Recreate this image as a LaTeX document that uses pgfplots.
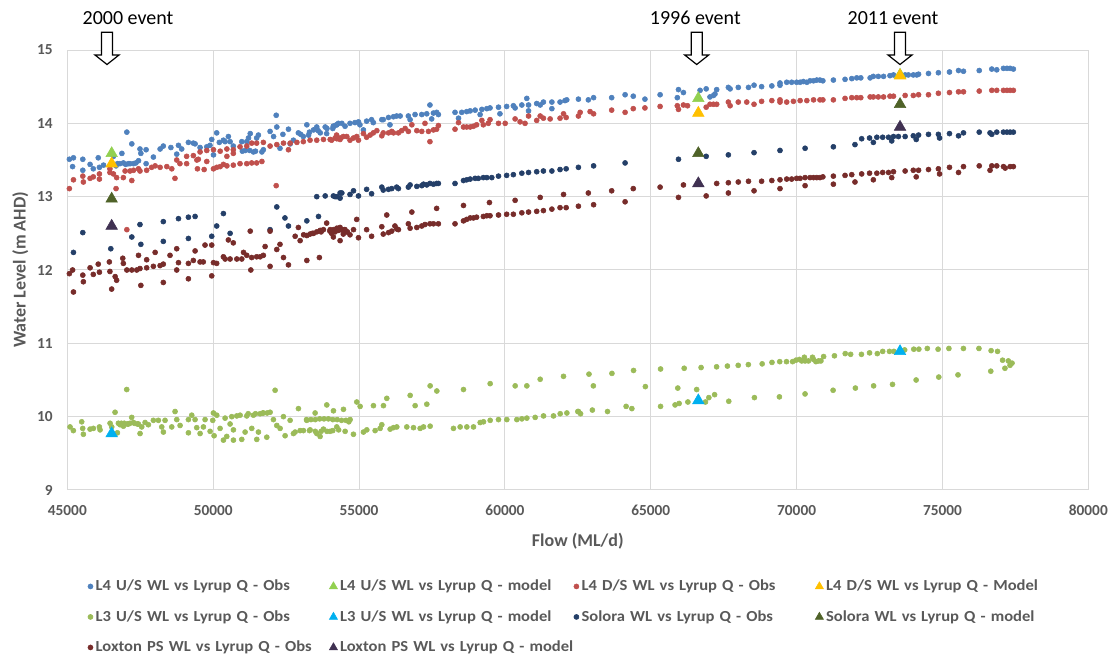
\documentclass[border=0pt]{standalone}
\usepackage{fontspec}
\setmainfont{Carlito}
\newfontfamily\legfont[FakeStretch=1.08]{Carlito}
\usepackage{pgfplots}
\pgfplotsset{compat=1.18}
\definecolor{cLfourU}{HTML}{4F81BD}
\definecolor{cLfourUm}{HTML}{92D050}
\definecolor{cLfourD}{HTML}{C0504D}
\definecolor{cLfourDm}{HTML}{FFC000}
\definecolor{cLthreeU}{HTML}{9BBB59}
\definecolor{cLthreeUm}{HTML}{00B0F0}
\definecolor{cSol}{HTML}{243F68}
\definecolor{cSolm}{HTML}{4F6228}
\definecolor{cLox}{HTML}{772C2A}
\definecolor{cLoxm}{HTML}{403152}
\definecolor{lblgray}{HTML}{595959}
\definecolor{gridgray}{HTML}{D9D9D9}
\begin{document}
\begin{tikzpicture}
\path[use as bounding box] (0,0) rectangle (834.75pt,494.25pt);
\begin{axis}[
  at={(50.5pt,126.75pt)}, anchor=south west,
  scale only axis, width=765.75pt, height=330pt,
  xmin=45000, xmax=80000, ymin=9, ymax=15,
  xtick={45000,50000,...,80000}, ytick={9,10,...,15},
  scaled x ticks=false,
  /pgf/number format/1000 sep={},
  /pgf/number format/assume math mode=true,
  grid=major, major grid style={draw=gridgray, line width=0.75pt},
  axis line style={draw=gridgray, line width=0.75pt},
  major tick length=0pt,
  tick label style={font=\fontsize{11.5}{13}\selectfont\bfseries, text=lblgray},
  xticklabel style={yshift=-8pt},
  yticklabel style={xshift=-7.5pt},
  xlabel={Flow (ML/d)}, ylabel={Water Level (m AHD)},
  label style={font=\fontsize{13.5}{15}\selectfont\bfseries, text=lblgray},
  xlabel style={at={(axis description cs:0.5,-0.116)}, anchor=center},
  ylabel style={at={(axis description cs:-0.046,0.5)}, anchor=center},
  legend columns=4,
  legend cell align=left,
  legend style={at={(axis description cs:0.016,-0.192)}, anchor=north west, draw=none, fill=none,
    font=\legfont\fontsize{11.5}{13.5}\selectfont\bfseries, text=lblgray, row sep=9.3pt,
    nodes={text width=177pt, align=left},
    /tikz/every even column/.append style={column sep=-3.7pt}},
  legend image code/.code={\draw[mark repeat=2,mark phase=2,#1] plot coordinates {(0cm,0cm)(0.12cm,0cm)(0.24cm,0cm)};},
]
% L4 U/S Obs
\addplot[only marks, mark=*, mark size=1.9pt, color=cLfourU] coordinates {
(45070,13.51)(45210,13.53)(45180,13.41)(45530,13.51)(45530,13.36)(45780,13.44)(45890,13.38)(46060,13.53)(46100,13.40)(46240,13.43)
(46580,13.55)(46670,13.42)(46870,13.59)(47040,13.88)(47210,13.72)(46920,13.46)(47090,13.45)(47270,13.45)(47440,13.49)(47490,13.65)
(47520,13.59)(47700,13.64)(47700,13.45)(47950,13.54)(48180,13.65)(48290,13.69)(48550,13.67)(48750,13.58)(48810,13.70)(48920,13.65)
(49150,13.74)(49320,13.73)(49380,13.72)(49550,13.67)(49780,13.68)(49890,13.70)(49950,13.78)(50010,13.57)(50120,13.87)(50210,13.74)
(50350,13.77)(50410,13.75)(50520,13.82)(50580,13.75)(50690,13.69)(50980,13.75)(51150,13.75)(51210,13.80)(51270,13.86)(51380,13.61)
(51490,13.80)(51550,13.84)(51670,13.61)(51720,13.64)(51950,13.89)(52070,13.82)(52160,14.11)(52180,13.95)(52290,13.66)(52390,13.85)
(52580,13.92)(52640,13.72)(52750,13.77)(52920,13.87)(53090,13.82)(53210,13.98)(53270,13.84)(53440,13.91)(53550,13.95)(53670,13.87)
(53840,13.95)(53890,13.86)(54120,13.96)(54240,13.98)(54290,14.00)
(46720,13.45)(46800,13.45)(47000,13.44)(47150,13.45)(47350,13.46)(51000,13.62)(51100,13.63)(51250,13.63)(51450,13.62)
(53000,13.85)(53300,13.88)(53600,13.90)(53900,13.93)(54100,13.93)
(54120,13.96)(54230,13.98)(54410,14.00)(54520,13.96)(54690,14.00)(54860,14.01)(54980,14.02)(55030,13.98)(55150,13.91)(55260,14.03)
(55430,14.05)(55490,14.01)(55780,14.05)(55830,14.05)(56010,14.08)(56060,13.98)(56180,14.09)(56290,14.10)(56410,14.10)(56690,14.10)
(56750,14.05)(56920,14.12)(57150,14.12)(57320,14.13)(57430,14.25)(57490,14.06)(57550,14.14)(57660,14.15)(57720,14.12)(58290,14.15)
(58410,14.07)(58520,14.15)(58690,14.16)(58810,14.17)(58980,14.18)(59150,14.12)(59210,14.19)(59380,14.20)(59490,14.21)(59780,14.22)
(59830,14.13)(60060,14.23)(60290,14.24)(60350,14.21)(60580,14.25)(60750,14.34)(60810,14.25)(60810,14.17)(61090,14.27)(61210,14.25)
(61320,14.29)(61610,14.29)(61610,14.20)(61890,14.29)(62060,14.31)(62120,14.32)(62520,14.33)(62860,14.32)(63040,14.35)(63660,14.35)
(64120,14.39)(64400,14.37)(64800,14.33)(65320,14.39)(65910,14.35)(65950,14.46)(66120,14.42)(66690,14.45)(66900,14.47)(67030,14.36)
(67150,14.38)(67200,14.40)(67260,14.46)(67660,14.49)(67720,14.47)(68000,14.49)(68350,14.49)(68540,14.52)(68800,14.50)(69150,14.51)
(69430,14.55)(69430,14.52)(69660,14.56)(69830,14.56)(70000,14.56)(70120,14.56)(70230,14.57)(70350,14.56)(70460,14.58)(70580,14.58)
(70690,14.59)(70800,14.59)(70900,14.58)(71260,14.59)(71660,14.60)(71890,14.61)(72060,14.62)(72200,14.62)(72520,14.62)(72630,14.64)
(72800,14.64)(72980,14.64)(73200,14.65)(73320,14.66)(73720,14.66)(73830,14.66)(74000,14.66)(74120,14.66)(74180,14.67)(74520,14.68)
(74860,14.69)(75240,14.70)(75550,14.72)(75720,14.71)(76260,14.72)(76690,14.74)(76860,14.73)(77090,14.75)(77210,14.75)(77320,14.75)
(77430,14.74)
};
\addlegendentry{L4 U/S WL vs Lyrup Q - Obs}
% L4 U/S model
\addplot[only marks, mark=triangle*, mark size=5pt, color=cLfourUm, legend image post style={mark size=3.5pt}] coordinates {
(46520,13.59)(66630,14.34)(73545,14.66)
};
\addlegendentry{L4 U/S WL vs Lyrup Q - model}
% L4 D/S Obs
\addplot[only marks, mark=*, mark size=1.9pt, color=cLfourD] coordinates {
(45070,13.11)(45210,13.23)(45530,13.28)(45550,13.20)(45780,13.25)(45890,13.27)(46100,13.31)(46100,13.24)(46460,13.33)(46580,13.31)
(46670,13.11)(46690,13.26)(46920,13.26)(47210,13.22)(46980,13.35)(47150,13.35)(47270,13.36)(47440,13.38)(47490,13.35)(47720,13.36)
(47890,13.40)(48010,13.42)(48180,13.40)(48410,13.41)(48580,13.38)(48690,13.25)(48750,13.50)(48860,13.45)(49090,13.45)(49460,13.38)
(49440,13.50)(49690,13.37)(49780,13.48)(50010,13.38)(50120,13.40)(50240,13.41)(50350,13.44)(50470,13.42)(50690,13.43)(50920,13.45)
(51150,13.45)(51320,13.46)(51490,13.46)(51670,13.48)(52160,13.15)(49550,13.61)(49780,13.63)(50010,13.64)(50240,13.62)(50470,13.65)
(50690,13.64)(50920,13.68)(51150,13.69)(51320,13.73)(51490,13.73)(51720,13.74)(51950,13.69)(52180,13.71)(52410,13.73)(52580,13.64)
(52640,13.73)(52870,13.74)(53090,13.75)(53320,13.77)(53550,13.77)(53780,13.78)(54010,13.78)(54240,13.79)(54350,13.80)(47040,12.55)
(49090,13.55)(49320,13.56)(49490,13.51)(50470,13.55)(50690,13.59)(46460,13.38)
(54060,13.77)(54180,13.80)(54230,13.84)(54350,13.78)(54460,13.82)(54580,13.82)(54690,13.77)(54810,13.80)(54920,13.82)(54980,13.77)
(55150,13.86)(55260,13.81)(55380,13.84)(55490,13.87)(55610,13.90)(55780,13.83)(55830,13.87)(56010,13.87)(56120,13.89)(56180,13.87)
(56350,13.87)(56460,13.90)(56580,13.93)(56690,13.89)(56810,13.98)(56980,13.90)(57150,13.89)(57260,14.00)(57380,13.89)(57430,13.75)
(57550,13.91)(57660,13.92)(57720,13.97)(58290,13.92)(58410,14.01)(58580,13.95)(58690,13.95)(58810,13.95)(58920,13.96)(59030,13.98)
(59210,14.04)(59260,13.98)(59430,14.00)(59490,14.05)(59780,14.00)(60010,14.00)(60350,14.06)(60520,14.02)(60690,14.00)(60810,14.10)
(61090,14.04)(61210,14.10)(61320,14.07)(61550,14.06)(61890,14.07)(62010,14.13)(62100,14.08)(62520,14.10)(62580,14.15)(62920,14.16)
(63040,14.13)(63660,14.18)(64120,14.15)
(64400,14.20)(64800,14.21)(65320,14.23)(65910,14.24)(65950,14.19)(66120,14.25)(66260,14.24)(66900,14.22)(67030,14.26)(67150,14.26)
(67260,14.26)(67660,14.29)(67720,14.24)(68000,14.29)(68290,14.29)(68540,14.26)(68800,14.30)(69150,14.31)(69430,14.32)(69430,14.29)
(69660,14.29)(69890,14.30)(70120,14.31)(70350,14.31)(70580,14.32)(70800,14.32)(70900,14.32)(71260,14.32)(71660,14.34)(71890,14.35)
(72060,14.35)(72200,14.35)(72520,14.36)(72630,14.36)(72800,14.36)(72980,14.36)(73200,14.37)(73320,14.37)(73720,14.38)(74000,14.38)
(74180,14.39)(74520,14.39)(74860,14.41)(75240,14.42)(75550,14.43)(75720,14.43)(76260,14.44)(76690,14.45)(76860,14.45)(77090,14.45)
(77210,14.45)(77320,14.45)(77430,14.45)
};
\addlegendentry{L4 D/S WL vs Lyrup Q - Obs}
% L4 D/S Model
\addplot[only marks, mark=triangle*, mark size=5pt, color=cLfourDm, legend image post style={mark size=3.5pt}] coordinates {
(46520,13.45)(66630,14.14)(73545,14.65)
};
\addlegendentry{L4 D/S WL vs Lyrup Q - Model}
% L3 U/S Obs
\addplot[only marks, mark=*, mark size=1.9pt, color=cLthreeU] coordinates {
(45093,9.86)(45207,9.81)(45493,9.93)(45527,9.84)(45550,9.76)(45779,9.83)(45893,9.84)(46099,9.86)(46122,9.82)(46465,9.91)
(46522,9.86)(46636,10.06)(46716,9.78)(46807,9.89)(46922,9.87)(47036,10.37)(47093,9.90)(47207,9.99)(47265,9.92)(47436,9.90)
(47493,9.77)(47550,9.86)(47665,9.92)(47779,9.89)(47950,9.95)(48122,9.95)(48236,9.86)(48293,9.79)(48350,9.95)(48579,9.86)
(48693,10.07)(48751,9.96)(48865,9.88)(49151,9.96)(49151,9.78)(49265,10.02)(49379,9.96)(49436,9.85)(49551,9.77)(49665,9.86)
(49722,9.96)(49894,9.80)(49985,9.95)(50008,10.05)(50031,9.74)(50122,10.02)(50236,9.84)(50351,9.68)(50408,9.98)(50465,9.73)
(50579,9.90)(50636,10.00)(50694,9.82)(50694,9.68)(50808,10.01)(50979,9.69)(50922,10.02)(51094,9.79)(51151,10.01)(51322,9.84)
(51379,10.02)(51494,9.69)(51551,9.79)(51608,10.04)(51722,10.05)(51837,9.72)(51951,10.06)(52065,9.96)(52122,10.36)(52180,9.88)
(52294,9.84)(52408,10.00)(52465,9.74)(52637,9.95)(52751,9.77)(52808,9.79)(52922,10.11)(52980,9.81)(53094,9.81)(53208,9.95)
(53323,9.82)(53494,10.05)(53551,9.77)(53665,9.73)(53780,9.83)(53894,10.16)(54008,9.80)(54123,10.08)(54237,9.86)(54466,10.10)
(54523,9.80)(54694,9.96)(54808,9.76)(54923,10.20)(55037,10.14)(55151,9.79)(55266,9.82)(55494,10.15)(55551,9.81)(55723,9.84)
(55780,9.89)(55837,10.15)(55951,10.25)(56066,9.83)(56180,9.85)(56294,9.86)(56637,9.86)(56752,10.29)(56866,9.85)(56923,10.15)
(57094,9.84)(57209,9.86)(57323,10.17)(57437,10.42)(57437,9.87)(57666,10.35)(58237,9.84)(58466,9.86)(58580,10.37)(58695,9.86)
(58923,9.86)(59152,9.92)(59266,9.93)(59495,10.45)(59495,9.95)(59780,9.96)(60066,9.96)(60352,10.42)(60409,9.96)(60581,9.97)
(60752,10.42)(60752,9.98)(61038,9.99)(61209,10.51)(61324,10.01)(61666,10.01)(61895,10.04)(62009,10.55)(62124,10.05)(62524,10.07)
(46750,9.91)(46850,9.91)(46950,9.91)(47050,9.90)(47150,9.91)(47300,9.91)(47400,9.90)(51200,10.04)(51450,10.04)(51700,10.05)
(51850,10.05)(53200,9.96)(53350,9.96)(53500,9.96)(53650,9.97)(53800,9.97)(53950,9.97)(54100,9.96)(54250,9.96)(54400,9.95)
(54550,9.95)(54650,9.93)(53300,9.81)(53500,9.80)(53700,9.80)(53900,9.80)(54100,9.81)(54300,9.82)
(62500,10.07)(62593,10.04)(62882,10.58)(62998,10.09)(63032,10.42)(63518,10.07)(63669,10.59)(64155,10.14)(64352,10.11)(64410,10.63)
(64815,10.41)(65336,10.65)(65336,10.14)(65833,10.16)(65926,10.39)(65972,10.18)(66146,10.66)(66273,10.20)(66574,10.37)(66725,10.67)
(66875,10.20)(66991,10.26)(67188,10.30)(67257,10.68)(67627,10.69)(67674,10.21)(67998,10.70)(68345,10.71)(68553,10.26)(68819,10.72)
(69155,10.74)(69410,10.27)(69421,10.75)(69653,10.75)(69861,10.75)(69977,10.77)(70093,10.78)(70174,10.76)(70266,10.81)(70289,10.76)
(70405,10.76)(70544,10.81)(70579,10.78)(70660,10.75)(70752,10.76)(70833,10.76)(70926,10.82)(70289,10.31)(71250,10.36)(71296,10.83)
(71667,10.86)(71852,10.85)(72014,10.39)(72222,10.85)(72500,10.87)(72639,10.42)(72766,10.86)(72951,10.89)(73183,10.89)(73287,10.44)
(73334,10.89)(73704,10.91)(74016,10.92)(74097,10.50)(74190,10.92)(74479,10.93)(74849,10.92)(74873,10.54)(75220,10.93)(75532,10.57)
(75718,10.93)(76250,10.93)(76655,10.62)(76667,10.90)(76887,10.89)(77060,10.77)(77141,10.66)(77257,10.76)(77315,10.70)(77384,10.73)
};
\addlegendentry{L3 U/S WL vs Lyrup Q - Obs}
% L3 U/S model
\addplot[only marks, mark=triangle*, mark size=5pt, color=cLthreeUm, legend image post style={mark size=3.5pt}] coordinates {
(46520,9.77)(66630,10.22)(73545,10.89)
};
\addlegendentry{L3 U/S WL vs Lyrup Q - model}
% Solora Obs
\addplot[only marks, mark=*, mark size=1.9pt, color=cSol] coordinates {
(45210,12.24)(45530,12.51)(46490,12.29)(47210,12.45)(47490,12.62)(47520,12.35)(48290,12.66)(48290,12.39)(48810,12.70)(49150,12.43)
(49150,12.72)(49380,12.73)(49950,12.46)(50120,12.60)(50350,12.77)(50580,12.50)(51950,12.55)(52180,12.86)(52460,12.71)(52580,12.60)
(53210,12.67)(53550,13.00)(53610,12.73)(53840,13.01)(54120,13.01)(54240,13.00)(54350,13.05)
(54180,13.00)(54350,12.98)(54410,13.05)(54690,13.03)(54810,13.08)(54980,13.01)(55260,13.10)(55430,13.04)(55780,13.13)(55830,13.09)
(56010,13.10)(56120,13.11)(56290,13.13)(56350,13.11)(56690,13.13)(56750,13.16)(56980,13.14)(57150,13.15)(57210,13.17)(57320,13.16)
(57430,13.18)(57550,13.17)(57660,13.18)(57720,13.18)(58290,13.18)(58580,13.22)(58690,13.23)(58810,13.24)(58980,13.25)(59090,13.25)
(59260,13.26)(59380,13.26)(59550,13.26)(59780,13.28)(60060,13.29)(60290,13.30)(60580,13.32)(60810,13.33)(61090,13.34)(61320,13.35)
(61610,13.35)(61890,13.37)(62100,13.38)(62520,13.40)(63040,13.42)(64120,13.46)
(65950,13.51)(66900,13.55)(67660,13.57)(68540,13.60)(69430,13.63)(70290,13.66)(71260,13.68)(72000,13.71)(72230,13.79)(72500,13.80)
(72630,13.74)(72750,13.81)(72950,13.81)(73150,13.81)(73260,13.76)(73320,13.82)(73490,13.82)(73720,13.82)(74000,13.83)(74100,13.78)
(74180,13.84)(74520,13.85)(74860,13.85)(74900,13.80)(75240,13.86)(75550,13.83)(75720,13.87)(76260,13.88)(76630,13.87)(76690,13.85)
(76860,13.88)(77090,13.88)(77210,13.88)(77320,13.88)(77430,13.88)
};
\addlegendentry{Solora WL vs Lyrup Q - Obs}
% Solora model
\addplot[only marks, mark=triangle*, mark size=5pt, color=cSolm, legend image post style={mark size=3.5pt}] coordinates {
(46520,12.97)(66630,13.59)(73545,14.26)
};
\addlegendentry{Solora WL vs Lyrup Q - model}
% Loxton PS Obs
\addplot[only marks, mark=*, mark size=1.9pt, color=cLox] coordinates {
(45070,11.95)(45180,12.00)(45210,11.70)(45530,11.93)(45550,11.84)(45780,12.03)(45890,11.94)(46060,12.08)(46100,11.97)(46460,11.98)
(46520,11.74)(46640,11.91)(46690,11.86)(46440,12.11)(46900,12.16)(46920,12.09)(47040,12.00)(47210,12.00)(47380,12.00)(47490,12.02)
(47520,11.79)(47440,12.20)(47720,12.03)(47720,12.14)(48010,12.24)(47950,12.05)(48180,12.06)(48290,12.08)(48290,11.83)(48520,12.20)
(48750,12.29)(48810,12.10)(48750,12.00)(49150,11.88)(49150,12.09)(49320,12.13)(49380,12.26)(49550,12.11)(49720,12.34)(49660,12.11)
(49950,12.34)(49950,11.92)(50010,12.10)(50120,12.09)(50350,12.18)(50410,12.15)(50520,12.41)(50580,12.15)(50690,12.37)(50810,12.15)
(50980,12.15)(51040,12.24)(51150,12.20)(51270,12.53)(51290,12.00)(51320,12.17)(51490,12.18)(51610,12.18)(51720,12.20)(51780,12.32)
(51950,12.53)(51950,12.05)(52180,12.28)(52290,12.35)(52410,12.17)(52580,12.07)(52810,12.46)(52920,12.58)(52980,12.40)(53210,12.13)
(53210,12.47)(53320,12.49)(53440,12.50)(53550,12.52)(53670,12.54)(53780,12.55)(53890,12.64)(54010,12.55)(54120,12.55)(54240,12.57)
(54350,12.58)(53640,12.17)(53100,12.48)(53400,12.50)(53700,12.52)(54000,12.53)(54300,12.54)(54500,12.55)(54600,12.52)
(54060,12.50)(54120,12.45)(54180,12.52)(54290,12.55)(54350,12.40)(54410,12.55)(54460,12.49)(54520,12.55)(54580,12.52)(54690,12.48)
(54810,12.55)(54920,12.69)(54980,12.44)(55260,12.55)(55430,12.46)(55780,12.59)(55830,12.49)(55950,12.75)(56010,12.51)(56120,12.53)
(56230,12.60)(56290,12.56)(56350,12.55)(56690,12.63)(56750,12.57)(56810,12.79)(56980,12.58)(57150,12.60)(57260,12.62)(57430,12.63)
(57550,12.63)(57660,12.84)(57720,12.63)(58290,12.63)(58580,12.88)(58580,12.67)(58690,12.69)(58810,12.71)(58920,12.71)(59030,12.72)
(59260,12.73)(59380,12.74)(59470,12.92)(59490,12.74)(59780,12.75)(60060,12.76)(60350,12.95)(60290,12.76)(60580,12.78)(60810,12.79)
(61090,12.80)(61210,12.99)(61320,12.81)(61610,12.83)(61890,12.85)(62010,13.03)(62100,12.85)(62520,12.87)(62860,13.05)(63040,12.89)
(63660,13.08)(64120,12.93)
(64400,13.11)(65320,13.13)(65950,12.99)(66120,13.16)(66900,13.01)(67260,13.18)(67660,13.19)(67660,13.05)(68000,13.20)(68350,13.21)
(68540,13.08)(68800,13.21)(69150,13.22)(69430,13.23)(69430,13.11)(69660,13.24)(69830,13.24)(70000,13.25)(70120,13.25)(70290,13.26)
(70290,13.15)(70460,13.26)(70580,13.26)(70690,13.26)(70800,13.26)(70900,13.27)(71260,13.28)(71260,13.17)(71660,13.29)(71890,13.30)
(72000,13.20)(72230,13.31)(72500,13.32)(72630,13.23)(72750,13.32)(72950,13.33)(73150,13.33)(73260,13.26)(73320,13.34)(73720,13.35)
(74000,13.36)(74100,13.27)(74180,13.36)(74520,13.37)(74860,13.38)(74900,13.31)(75240,13.40)(75550,13.33)(75720,13.41)(76260,13.42)
(76630,13.36)(76690,13.42)(76860,13.42)(77090,13.41)(77150,13.39)(77320,13.41)(77430,13.41)
};
\addlegendentry{Loxton PS WL vs Lyrup Q - Obs}
% Loxton PS model
\addplot[only marks, mark=triangle*, mark size=5pt, color=cLoxm, legend image post style={mark size=3.5pt}] coordinates {
(46520,12.60)(66630,13.18)(73545,13.95)
};
\addlegendentry{Loxton PS WL vs Lyrup Q - model}
\end{axis}
\begin{scope}[x=0.75pt, y=-0.75pt, shift={(0,494.25pt)}]
  \foreach \cx in {107,696.7,900} {
    \draw[black, line width=0.9pt, fill=white, line join=miter]
      (\cx-5.5,32.3) -- (\cx+5.5,32.3) -- (\cx+5.5,55) -- (\cx+12,55) -- (\cx,64.5)
      -- (\cx-12,55) -- (\cx-5.5,55) -- cycle;
  }
  \node[anchor=base, font=\fontsize{15}{17}\selectfont, inner sep=0pt] at (128,25) {2000 event};
  \node[anchor=base, font=\fontsize{15}{17}\selectfont, inner sep=0pt] at (695.3,25) {1996 event};
  \node[anchor=base, font=\fontsize{15}{17}\selectfont, inner sep=0pt] at (893,25) {2011 event};
\end{scope}
\end{tikzpicture}
\end{document}
